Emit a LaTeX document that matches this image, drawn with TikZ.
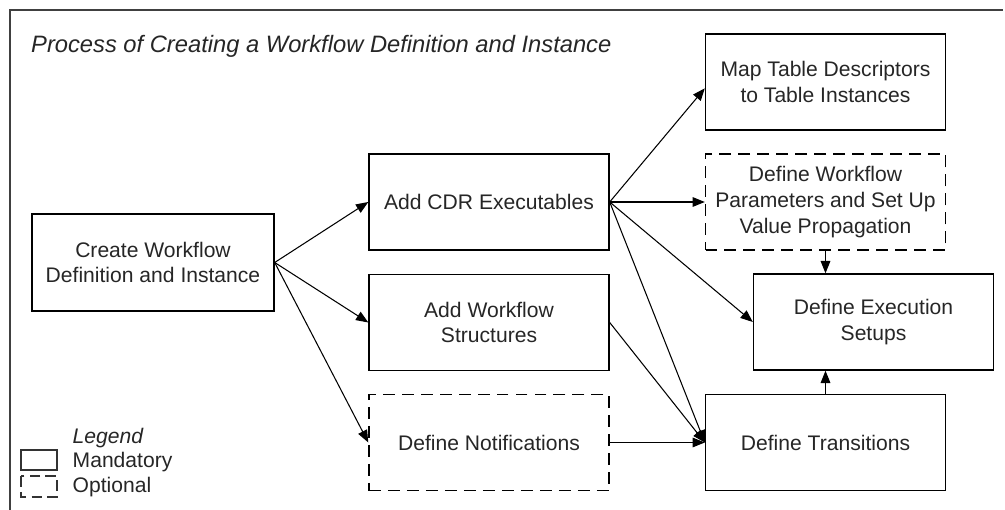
\documentclass[tikz,border=0pt]{standalone}
\usepackage{fontspec}
\setmainfont{Liberation Sans}
\usepackage{xcolor}
\usepackage{tikz}
\usetikzlibrary{arrows.meta}

\tikzset{
    stepbox/.style={draw, line width=0.8pt, minimum width=4.8cm, minimum height=1.92cm,
        align=center, font=\fontsize{12}{14.7}\selectfont, text=black!85},
    optbox/.style={stepbox, dash pattern=on 6.8pt off 4pt},
    arr/.style={-{Triangle[length=7pt,width=5.5pt]}, line width=0.6pt}
}

\begin{document}
\begin{tikzpicture}
            \useasboundingbox (0,0) rectangle (20.1,-10.2);
            % Frame
            \draw[line width=0.9pt, black!75] (0.2,-10.2) -- (0.2,-0.2) -- (20.06,-0.2);
            \node[anchor=west, font=\fontsize{13.5}{16}\selectfont\itshape, text=black!85] (title) at (0.5,-0.92) {Process of Creating a Workflow Definition and Instance};
            
            % Left column
            \node[stepbox, minimum width=4.84cm, minimum height=1.94cm] (create) at (3.06,-5.25) {Create Workflow\\Definition and Instance};
            
            % Middle column
            \node[stepbox] (cdr) at (9.78,-4.04) {Add CDR Executables};
            \node[stepbox] (struct) at (9.78,-6.45) {Add Workflow\\Structures};
            \node[optbox] (notif) at (9.78,-8.85) {Define Notifications};
            
            % Right column
            \node[stepbox] (map) at (16.51,-1.64) {Map Table Descriptors\\to Table Instances};
            \node[optbox] (params) at (16.51,-4.04) {Define Workflow\\Parameters and Set Up\\Value Propagation};
            \node[stepbox] (exec) at (17.47,-6.44) {Define Execution\\Setups};
            \node[stepbox] (trans) at (16.51,-8.85) {Define Transitions};
            
            % Arrows from create
            \draw[arr] (create.east) -- (cdr.west);
            \draw[arr] (create.east) -- (struct.west);
            \draw[arr] (create.east) -- (notif.west);
            
            % Arrows from cdr
            \draw[arr] (cdr.east) -- (map.183);
            \draw[arr] (cdr.east) -- (params.west);
            \draw[arr] (cdr.east) -- (exec.west);
            \draw[arr] (cdr.east) -- (trans.west);
            
            % Arrows into transitions and setups
            \draw[arr] (struct.east) -- (trans.west);
            \draw[arr] (notif.east) -- (trans.west);
            \draw[arr] (params.south) -- (params.south |- exec.north);
            \draw[arr] (trans.north) -- (trans.north |- exec.south);
            
            % Legend
            \node[anchor=west, font=\fontsize{12}{14}\selectfont\itshape, text=black!85] (legend) at (1.33,-8.76) {Legend};
            \draw[line width=0.8pt, black!80] (0.42,-9.0) rectangle (1.14,-9.4);
            \node[anchor=west, font=\fontsize{12}{14}\selectfont, text=black!85] (mand) at (1.33,-9.24) {Mandatory};
            \draw[line width=0.8pt, black!80, dash pattern=on 6pt off 3pt] (0.42,-9.52) rectangle (1.14,-9.94);
            \node[anchor=west, font=\fontsize{12}{14}\selectfont, text=black!85] (opt) at (1.33,-9.74) {Optional};
        \end{tikzpicture}
\end{document}
